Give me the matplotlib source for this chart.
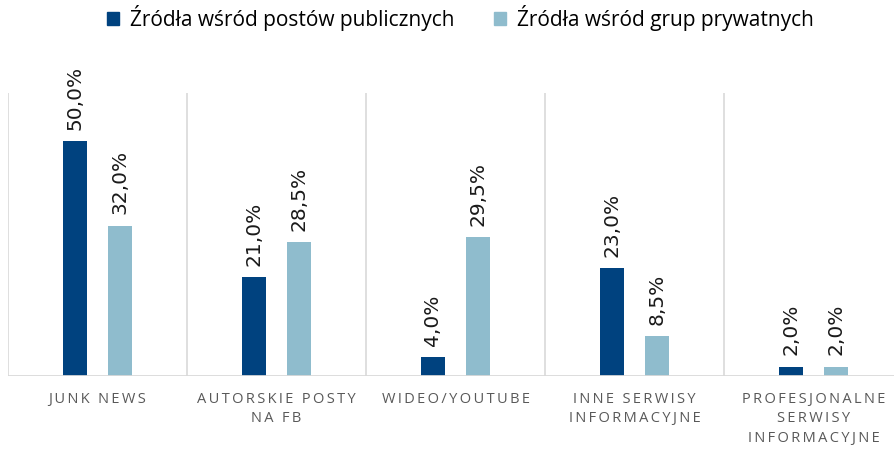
import matplotlib
matplotlib.use("Agg")
import matplotlib.pyplot as plt
from matplotlib.patches import Patch
import numpy as np

categories = ["JUNK NEWS", "AUTORSKIE POSTY\nNA FB", "WIDEO/YOUTUBE",
              "INNE SERWISY\nINFORMACYJNE", "PROFESJONALNE\nSERWISY\nINFORMACYJNE"]
public_vals = [50.0, 21.0, 4.0, 23.0, 2.0]
private_vals = [32.0, 28.5, 29.5, 8.5, 2.0]
series_names = ["Źródła wśród postów publicznych", "Źródła wśród grup prywatnych"]

dark = "#00427f"
light = "#8fbccd"
grid_c = "#d9d9d9"

W, H = 895, 449
fig = plt.figure(figsize=(W / 100, H / 100), dpi=100)
left, right, top, bottom = 8, 903, 93, 376
ax = fig.add_axes([left / W, (H - bottom) / H, (right - left) / W, (bottom - top) / H])

x = np.arange(len(categories))
off = 0.128
bw = 0.134
ax.bar(x - off, public_vals, bw, color=dark, zorder=3)
ax.bar(x + off, private_vals, bw, color=light, zorder=3)

def fmt(v):
    return f"{v:.1f}%".replace(".", ",")

for xs, vals in ((x - off, public_vals), (x + off, private_vals)):
    for xi, v in zip(xs, vals):
        ax.annotate(fmt(v), (xi, v), xytext=(0, 8), textcoords="offset points",
                    rotation=90, ha="center", va="bottom", fontsize=14.5,
                    color="#1a1a1a", family=["DejaVu Sans"])

ax.set_xlim(-0.5, len(categories) - 0.5)
ax.set_ylim(0, 60.2)
for b in np.arange(-0.5, len(categories) + 0.5, 1.0):
    ax.axvline(b, color=grid_c, lw=1.2, zorder=1)
ax.axhline(0, color=grid_c, lw=2, zorder=4)
for s in ax.spines.values():
    s.set_visible(False)
ax.set_yticks([])
ax.set_xticks([])

def spaced(t):
    return "\n".join("\u2009".join(list(line)) for line in t.split("\n"))

for xi, c in zip(x, categories):
    ax.text(xi, -0.055, spaced(c), transform=ax.get_xaxis_transform(),
            ha="center", va="top", fontsize=10.5, color="#595959",
            linespacing=1.42, family=["Open Sans", "DejaVu Sans"])

handles = [Patch(color=dark, label=series_names[0]), Patch(color=light, label=series_names[1])]
fig.legend(handles=handles, loc="center", bbox_to_anchor=(460 / W, 1 - 18 / H), ncol=2,
           frameon=False, handlelength=0.6, handleheight=0.6,
           handletextpad=0.5, columnspacing=1.9,
           prop={"family": ["Open Sans", "DejaVu Sans"], "size": 15})

fig.savefig("out.png", dpi=100)
